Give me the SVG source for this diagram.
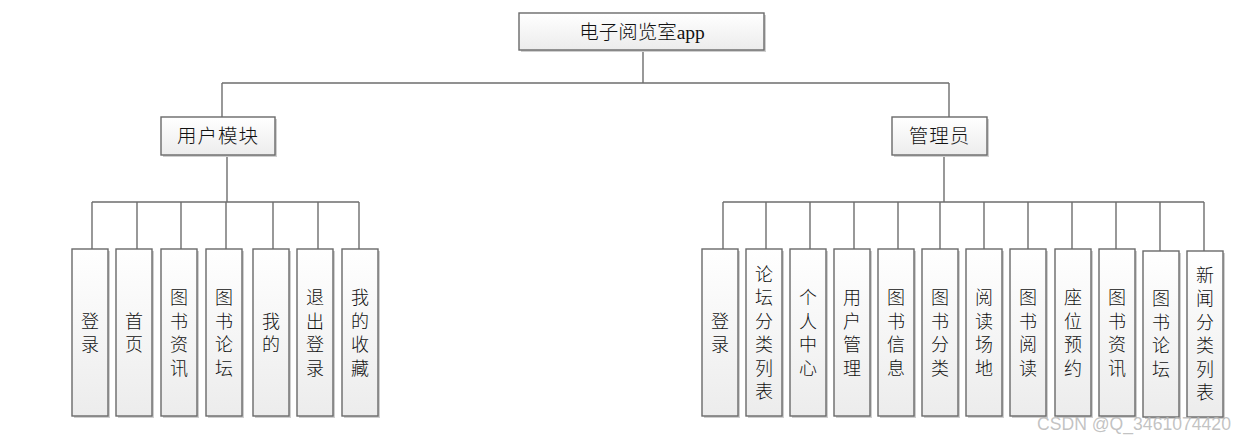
<svg xmlns="http://www.w3.org/2000/svg" width="1248" height="441" viewBox="0 0 1248 441">
<defs>
<linearGradient id="g" x1="0" y1="0" x2="0" y2="1">
<stop offset="0" stop-color="#ffffff"/>
<stop offset="1" stop-color="#ececec"/>
</linearGradient>
<style>
.box{fill:url(#g);stroke:#6a6a6a;stroke-width:1.4}
.sh{fill:#cfcfcf}
.t{font-family:"Liberation Serif","Noto Sans CJK SC",serif;font-size:19.5px;font-weight:300;fill:#111;text-anchor:middle}
.v{font-family:"Noto Sans CJK SC",sans-serif;font-size:18px;font-weight:300;fill:#111;text-anchor:middle}
.c{fill:none;stroke:#6e6e6e;stroke-width:1.4}
</style>
</defs>
<rect width="1248" height="441" fill="#ffffff"/>
<g id="connectors">
<path class="c" d="M643 50V83M222 83H949M222 83V117M949 83V117M227 155V202M92 202H359M92 202V249M137 202V249M181 202V249M226 202V249M273 202V249M318 202V249M359 202V249M944 155V202M723 202H1204M723 202V249M766 202V249M810 202V249M854 202V249M898 202V249M940 202V249M984 202V249M1028 202V249M1072 202V249M1116 202V249M1160 202V251M1204 202V251"/>
</g>
<g id="root">
<rect class="sh" x="521" y="15" width="245" height="37"/>
<rect class="box" x="519" y="13" width="245" height="37"/>
<text class="t" x="642" y="38.5">电子阅览室app</text>
</g>
<g id="user">
<rect class="sh" x="163" y="119" width="114" height="38"/>
<rect class="box" x="161" y="117" width="114" height="38"/>
<text class="t" x="218" y="143" letter-spacing="1">用户模块</text>
</g>
<g id="admin">
<rect class="sh" x="894" y="119" width="95" height="38"/>
<rect class="box" x="892" y="117" width="95" height="38"/>
<text class="t" x="939.5" y="143" letter-spacing="1">管理员</text>
</g>
<g id="u1"><rect class="sh" x="74" y="251" width="36" height="167"/><rect class="box" x="72" y="249" width="36" height="167"/><text class="v" x="90" y="327.5"><tspan x="90">登</tspan><tspan x="90" dy="23.5">录</tspan></text></g>
<g id="u2"><rect class="sh" x="118" y="251" width="36" height="167"/><rect class="box" x="116" y="249" width="36" height="167"/><text class="v" x="134" y="327.5"><tspan x="134">首</tspan><tspan x="134" dy="23.5">页</tspan></text></g>
<g id="u3"><rect class="sh" x="163" y="251" width="36" height="167"/><rect class="box" x="161" y="249" width="36" height="167"/><text class="v" x="179" y="304"><tspan x="179">图</tspan><tspan x="179" dy="23.5">书</tspan><tspan x="179" dy="23.5">资</tspan><tspan x="179" dy="23.5">讯</tspan></text></g>
<g id="u4"><rect class="sh" x="208" y="251" width="36" height="167"/><rect class="box" x="206" y="249" width="36" height="167"/><text class="v" x="224" y="304"><tspan x="224">图</tspan><tspan x="224" dy="23.5">书</tspan><tspan x="224" dy="23.5">论</tspan><tspan x="224" dy="23.5">坛</tspan></text></g>
<g id="u5"><rect class="sh" x="255" y="251" width="36" height="167"/><rect class="box" x="253" y="249" width="36" height="167"/><text class="v" x="271" y="327.5"><tspan x="271">我</tspan><tspan x="271" dy="23.5">的</tspan></text></g>
<g id="u6"><rect class="sh" x="299" y="251" width="36" height="167"/><rect class="box" x="297" y="249" width="36" height="167"/><text class="v" x="315" y="304"><tspan x="315">退</tspan><tspan x="315" dy="23.5">出</tspan><tspan x="315" dy="23.5">登</tspan><tspan x="315" dy="23.5">录</tspan></text></g>
<g id="u7"><rect class="sh" x="344" y="251" width="36" height="167"/><rect class="box" x="342" y="249" width="36" height="167"/><text class="v" x="360" y="304"><tspan x="360">我</tspan><tspan x="360" dy="23.5">的</tspan><tspan x="360" dy="23.5">收</tspan><tspan x="360" dy="23.5">藏</tspan></text></g>
<g id="a1"><rect class="sh" x="704" y="251" width="36" height="167"/><rect class="box" x="702" y="249" width="36" height="167"/><text class="v" x="720" y="327.5"><tspan x="720">登</tspan><tspan x="720" dy="23.5">录</tspan></text></g>
<g id="a2"><rect class="sh" x="748" y="251" width="36" height="167"/><rect class="box" x="746" y="249" width="36" height="167"/><text class="v" x="764" y="280.5"><tspan x="764">论</tspan><tspan x="764" dy="23.5">坛</tspan><tspan x="764" dy="23.5">分</tspan><tspan x="764" dy="23.5">类</tspan><tspan x="764" dy="23.5">列</tspan><tspan x="764" dy="23.5">表</tspan></text></g>
<g id="a3"><rect class="sh" x="792" y="251" width="36" height="167"/><rect class="box" x="790" y="249" width="36" height="167"/><text class="v" x="808" y="304"><tspan x="808">个</tspan><tspan x="808" dy="23.5">人</tspan><tspan x="808" dy="23.5">中</tspan><tspan x="808" dy="23.5">心</tspan></text></g>
<g id="a4"><rect class="sh" x="836" y="251" width="36" height="167"/><rect class="box" x="834" y="249" width="36" height="167"/><text class="v" x="852" y="304"><tspan x="852">用</tspan><tspan x="852" dy="23.5">户</tspan><tspan x="852" dy="23.5">管</tspan><tspan x="852" dy="23.5">理</tspan></text></g>
<g id="a5"><rect class="sh" x="880" y="251" width="36" height="167"/><rect class="box" x="878" y="249" width="36" height="167"/><text class="v" x="896" y="304"><tspan x="896">图</tspan><tspan x="896" dy="23.5">书</tspan><tspan x="896" dy="23.5">信</tspan><tspan x="896" dy="23.5">息</tspan></text></g>
<g id="a6"><rect class="sh" x="924" y="251" width="36" height="167"/><rect class="box" x="922" y="249" width="36" height="167"/><text class="v" x="940" y="304"><tspan x="940">图</tspan><tspan x="940" dy="23.5">书</tspan><tspan x="940" dy="23.5">分</tspan><tspan x="940" dy="23.5">类</tspan></text></g>
<g id="a7"><rect class="sh" x="968" y="251" width="36" height="167"/><rect class="box" x="966" y="249" width="36" height="167"/><text class="v" x="984" y="304"><tspan x="984">阅</tspan><tspan x="984" dy="23.5">读</tspan><tspan x="984" dy="23.5">场</tspan><tspan x="984" dy="23.5">地</tspan></text></g>
<g id="a8"><rect class="sh" x="1012" y="251" width="36" height="167"/><rect class="box" x="1010" y="249" width="36" height="167"/><text class="v" x="1028" y="304"><tspan x="1028">图</tspan><tspan x="1028" dy="23.5">书</tspan><tspan x="1028" dy="23.5">阅</tspan><tspan x="1028" dy="23.5">读</tspan></text></g>
<g id="a9"><rect class="sh" x="1057" y="251" width="36" height="167"/><rect class="box" x="1055" y="249" width="36" height="167"/><text class="v" x="1073" y="304"><tspan x="1073">座</tspan><tspan x="1073" dy="23.5">位</tspan><tspan x="1073" dy="23.5">预</tspan><tspan x="1073" dy="23.5">约</tspan></text></g>
<g id="a10"><rect class="sh" x="1101" y="251" width="36" height="167"/><rect class="box" x="1099" y="249" width="36" height="167"/><text class="v" x="1117" y="304"><tspan x="1117">图</tspan><tspan x="1117" dy="23.5">书</tspan><tspan x="1117" dy="23.5">资</tspan><tspan x="1117" dy="23.5">讯</tspan></text></g>
<g id="a11"><rect class="sh" x="1145" y="253" width="36" height="166"/><rect class="box" x="1143" y="251" width="36" height="166"/><text class="v" x="1161" y="305"><tspan x="1161">图</tspan><tspan x="1161" dy="23.5">书</tspan><tspan x="1161" dy="23.5">论</tspan><tspan x="1161" dy="23.5">坛</tspan></text></g>
<g id="a12"><rect class="sh" x="1189" y="253" width="36" height="166"/><rect class="box" x="1187" y="251" width="36" height="166"/><text class="v" x="1205" y="281.5"><tspan x="1205">新</tspan><tspan x="1205" dy="23.5">闻</tspan><tspan x="1205" dy="23.5">分</tspan><tspan x="1205" dy="23.5">类</tspan><tspan x="1205" dy="23.5">列</tspan><tspan x="1205" dy="23.5">表</tspan></text></g>
<text x="1037" y="430" font-family="Liberation Sans, sans-serif" font-size="17.6" fill="#b8b8b8" fill-opacity="0.85">CSDN @Q_3461074420</text>
</svg>
